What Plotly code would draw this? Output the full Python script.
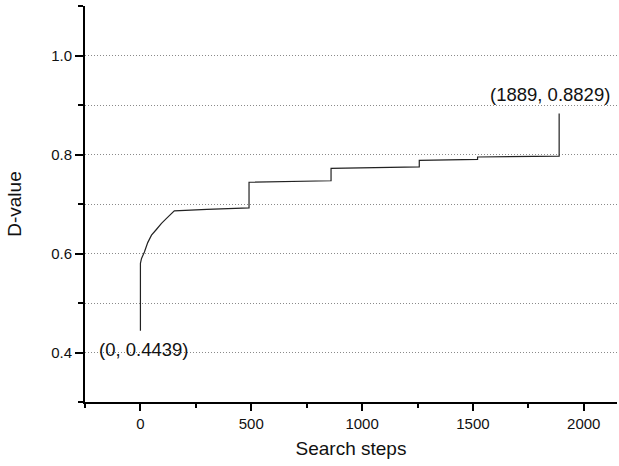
import plotly.graph_objects as go

# Data
steps = [0, 0, 5, 18, 33, 50, 71, 95, 120, 153, 300, 490, 490, 860, 860, 1258, 1258, 1521, 1521, 1889, 1889]
d_value = [0.4439, 0.580, 0.590, 0.603, 0.622, 0.637, 0.648, 0.661, 0.672, 0.686, 0.689, 0.692,
           0.744, 0.747, 0.772, 0.775, 0.788, 0.790, 0.795, 0.7966, 0.8829]

start_label = "(0, 0.4439)"
end_label = "(1889, 0.8829)"
x_title = "Search steps"
y_title = "D-value"

FONT = "Liberation Sans, Arial, sans-serif"
GRID = "#8a8a8a"
DOT = "1px,2px"

fig = go.Figure()
fig.add_trace(go.Scatter(x=steps, y=d_value, mode="lines",
                         line=dict(color="#222222", width=1.2), showlegend=False,
                         hoverinfo="skip"))

fig.add_annotation(x=steps[0], y=d_value[0], text=start_label, showarrow=False,
                   xanchor="center", yanchor="middle", xshift=3, yshift=-19,
                   font=dict(family=FONT, size=18.5, color="#111111"))
fig.add_annotation(x=steps[-1], y=d_value[-1], text=end_label, showarrow=False,
                   xanchor="center", yanchor="middle", xshift=-9, yshift=19,
                   font=dict(family=FONT, size=18.5, color="#111111"))

fig.update_layout(
    width=619, height=466,
    margin=dict(l=85, r=2, t=6, b=64),
    paper_bgcolor="white", plot_bgcolor="white",
    font=dict(family=FONT, color="#111111"),
    xaxis=dict(
        range=[-250, 2150], tick0=0, dtick=500,
        showline=True, linecolor="black", linewidth=2, mirror=False,
        ticks="outside", ticklen=7, tickwidth=1.5, tickcolor="black",
        minor=dict(dtick=250, tick0=0, ticks="outside", ticklen=4, tickwidth=1.5, tickcolor="black", showgrid=False),
        showgrid=False, zeroline=False,
        tickfont=dict(size=15, family=FONT, color="#111111"),
        title=dict(text=x_title, font=dict(size=19, family=FONT, color="#111111"), standoff=11),
    ),
    yaxis=dict(
        range=[0.3, 1.1], tick0=0, dtick=0.2, tickformat=".1f",
        showline=True, linecolor="black", linewidth=2, mirror=False,
        ticks="outside", ticklen=8, tickwidth=1.5, tickcolor="black",
        showgrid=True, gridcolor=GRID, griddash=DOT, gridwidth=1,
        minor=dict(dtick=0.1, tick0=0, ticks="outside", ticklen=5, tickwidth=1.5, tickcolor="black",
                   showgrid=True, gridcolor=GRID, griddash=DOT, gridwidth=1),
        zeroline=False,
        tickfont=dict(size=15, family=FONT, color="#111111"),
        title=dict(text=y_title, font=dict(size=19, family=FONT, color="#111111"), standoff=24),
    ),
)

fig.write_html("out.html")
